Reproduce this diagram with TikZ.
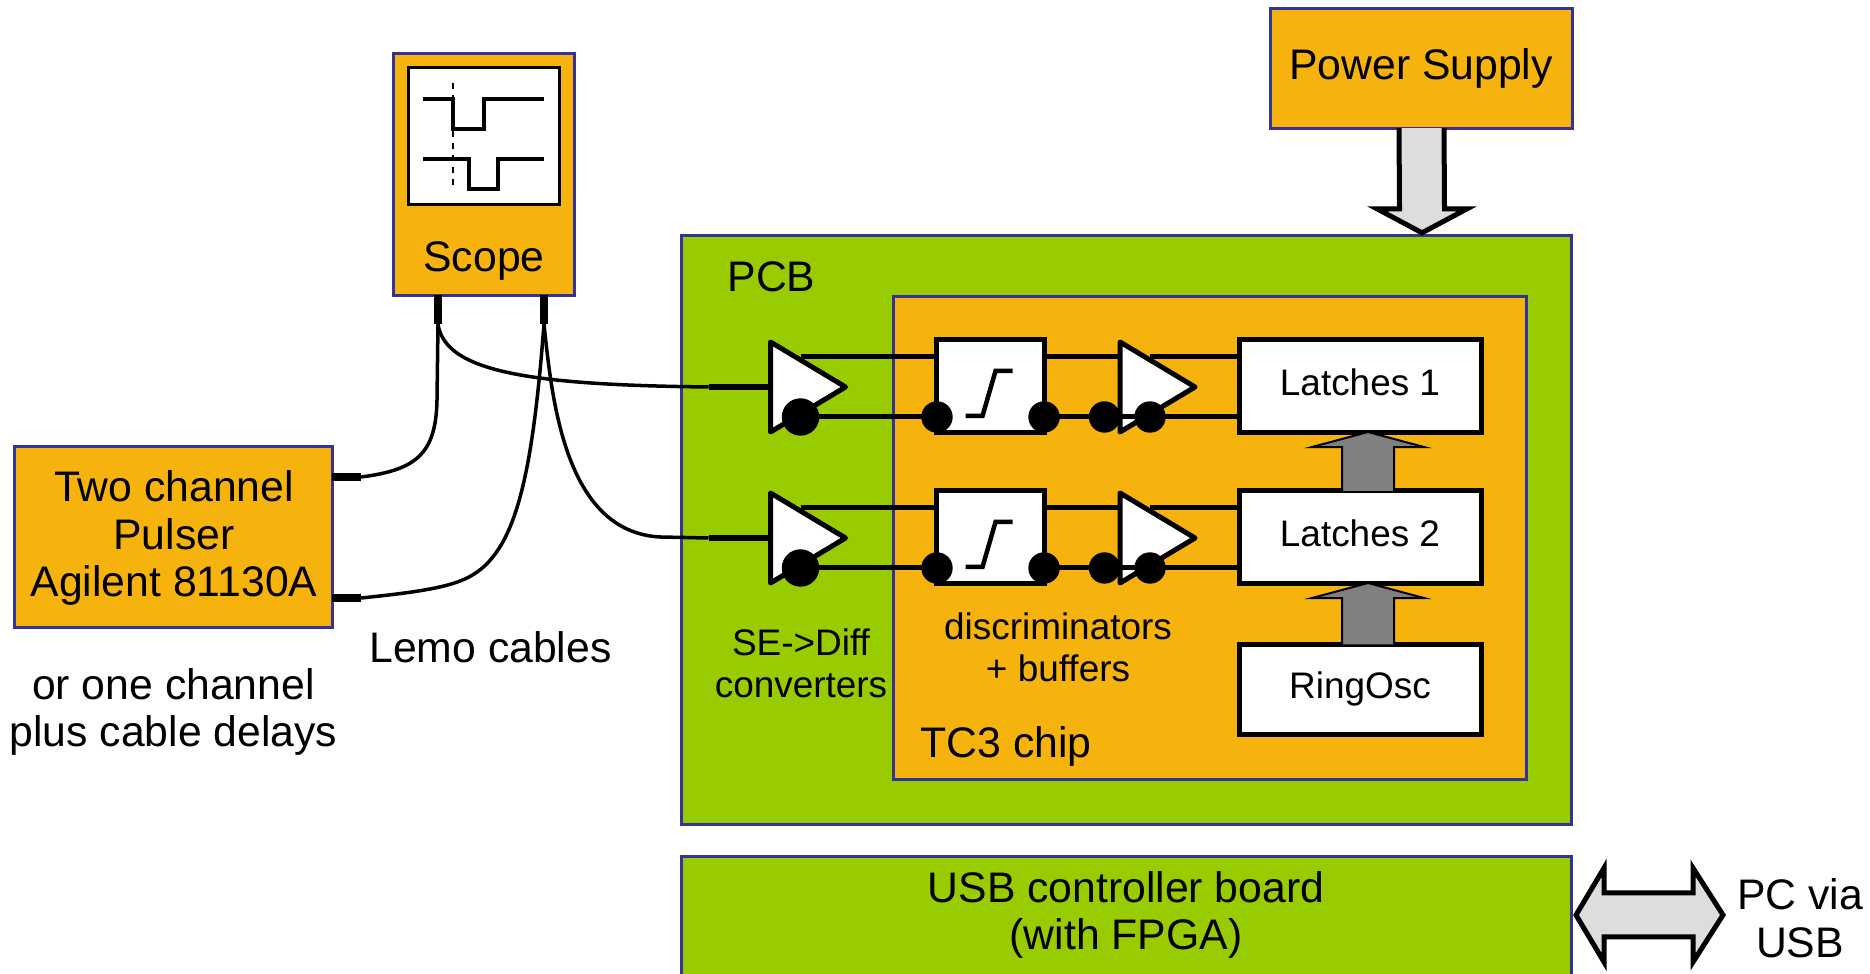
\documentclass[tikz,border=0pt]{standalone}
\usepackage{fontspec}
\setmainfont{Liberation Sans}
\usetikzlibrary{calc}
\definecolor{boxorange}{HTML}{F6B20D}
\definecolor{boxgreen}{HTML}{99CC00}
\definecolor{boxblue}{HTML}{333399}
\definecolor{arrowlight}{HTML}{DDDDDD}
\tikzset{
	bigtext/.style={font=\fontsize{12.15}{13.6}\selectfont, align=center, inner sep=0pt},
	smalltext/.style={font=\fontsize{10.5}{11.95}\selectfont, align=center, inner sep=0pt},
	orangebox/.style={draw=boxblue, fill=boxorange, line width=0.3mm, inner sep=0pt, outer sep=0pt},
	greenbox/.style={draw=boxblue, fill=boxgreen, line width=0.3mm, inner sep=0pt, outer sep=0pt},
	whitebox/.style={draw=black, fill=white, line width=0.5mm, inner sep=0pt, outer sep=0pt, smalltext},
	wire/.style={line width=0.5mm},
	cable/.style={line width=0.35mm},
	plug/.style={line width=0.75mm},
	bubble/.style={fill=black},
}
\def\ampblock(#1)(#2:#3){
	\coordinate (#1in) at (#2,#3);
	\coordinate (#1top) at (#2+30,#3-30);
	\coordinate (#1bot) at (#2+30,#3+30);
	\draw[fill=white, line width=0.5mm, line join=round] (#2,#3-45) -- (#2+75,#3) -- (#2,#3+45) -- cycle;
}
\def\stepblock(#1:#2){
	\draw[line width=0.45mm] (#1-25,#2+30) -- (#1-8,#2+30) -- (#1+5,#2-15) -- (#1+22,#2-15);
}
\def\blockarrow[#1](#2)(#3)(#4:#5:#6){
	\draw[#1] ($(#2)+(-#4,0)$) -- ($(#3)+(-#4,#6)$) -- ($(#3)+(-#5,#6)$) -- (#3) -- ($(#3)+(#5,#6)$) -- ($(#3)+(#4,#6)$) -- ($(#2)+(#4,0)$);
}
\begin{document}
\begin{tikzpicture}[x=0.01cm, y=-0.01cm]
	\clip (0,0) rectangle (1870,974);
	
	%%%%% boxes %%%%%
	\node[orangebox, minimum width=3.02cm, minimum height=1.19cm] (psu) at (1421.5,68.5) {};
	\node[greenbox, minimum width=8.9cm, minimum height=5.88cm] (pcb) at (1126.5,530) {};
	\node[orangebox, minimum width=6.33cm, minimum height=4.82cm] (chip) at (1210,538) {};
	\node[greenbox, minimum width=8.9cm, minimum height=1.6cm] (usb) at (1126.5,937) {};
	\node[orangebox, minimum width=1.8cm, minimum height=2.41cm] (scope) at (484,174.5) {};
	\node[orangebox, minimum width=3.17cm, minimum height=1.8cm] (pulser) at (173.5,537) {};
	\node[draw=black, fill=white, line width=0.3mm, outer sep=0pt, minimum width=1.5cm, minimum height=1.36cm] (screen) at (484,136) {};
	
	%%%%% scope traces %%%%%
	\draw[line width=0.35mm] (423,99) -- (453,99) -- (453,129) -- (484,129) -- (484,99) -- (544,99);
	\draw[line width=0.35mm] (423,159) -- (469,159) -- (469,189) -- (498,189) -- (498,159) -- (544,159);
	\draw[dash pattern=on 0.6mm off 0.6mm, line width=0.2mm] (453,83) -- (453,188);
	
	%%%%% latches %%%%%
	\node[whitebox, minimum width=2.41cm, minimum height=0.92cm] (latcha) at (1360.5,386) {};
	\node[whitebox, minimum width=2.41cm, minimum height=0.92cm] (latchb) at (1360.5,537) {};
	\node[whitebox, minimum width=2.41cm, minimum height=0.9cm] (ring) at (1360.5,689.5) {};
	\node[smalltext] (latchatext) at (1360,382) {Latches 1};
	\node[smalltext] (latchbtext) at (1360,533) {Latches 2};
	\node[smalltext] (ringtext) at (1360,689) {RingOsc};
	
	\coordinate (arrowa) at ($(latcha.south)+(7.5,0)$);
	\coordinate (arrowb) at ($(latchb.south)+(7.5,0)$);
	\blockarrow[fill=gray, line width=0.2mm](latchb.north -| arrowa)(arrowa)(26:56:15);
	\blockarrow[fill=gray, line width=0.2mm](ring.north -| arrowb)(arrowb)(26:56:15);
	
	%%%%% discriminators %%%%%
	\node[whitebox, minimum width=1.07cm, minimum height=0.92cm] (disca) at (990.5,386) {};
	\node[whitebox, minimum width=1.07cm, minimum height=0.92cm] (discb) at (990.5,537) {};
	\stepblock(990.5:386);
	\stepblock(990.5:537);
	
	%%%%% amplifiers %%%%%
	\ampblock(seta)(770.5:387);
	\ampblock(setb)(770.5:538);
	\ampblock(bufa)(1120:387);
	\ampblock(bufb)(1120:538);
	
	\draw[wire] (setatop) -- (setatop -| disca.west);
	\draw[wire] (setabot) -- (setabot -| disca.west);
	\draw[wire] (setbtop) -- (setbtop -| discb.west);
	\draw[wire] (setbbot) -- (setbbot -| discb.west);
	\draw[wire] (bufatop -| disca.east) -- (bufatop -| bufain);
	\draw[wire] (bufbtop -| discb.east) -- (bufbtop -| bufbin);
	\draw[wire] (bufabot -| disca.east) -- (bufabot -| latcha.west);
	\draw[wire] (bufbbot -| discb.east) -- (bufbbot -| latchb.west);
	\draw[wire] (bufatop) -- (bufatop -| latcha.west);
	\draw[wire] (bufbtop) -- (bufbtop -| latchb.west);
	
	\draw[bubble] (setabot) circle (18);
	\draw[bubble] (setbbot) circle (18);
	\draw[bubble] (setabot -| disca.west) circle (15);
	\draw[bubble] (setbbot -| discb.west) circle (15);
	\draw[bubble] (setabot -| disca.east) circle (15);
	\draw[bubble] (setbbot -| discb.east) circle (15);
	\draw[bubble] ($(bufabot)+(-45.5,0)$) circle (15);
	\draw[bubble] ($(bufbbot)+(-45.5,0)$) circle (15);
	\draw[bubble] (bufabot) circle (15);
	\draw[bubble] (bufbbot) circle (15);
	
	%%%%% lemo cables %%%%%
	\coordinate (scopea) at ($(scope.south)+(-46,29)$);
	\coordinate (scopeb) at ($(scope.south)+(60,29)$);
	\coordinate (pulsera) at ($(pulser.east)+(29,-60)$);
	\coordinate (pulserb) at ($(pulser.east)+(29,61)$);
	\coordinate (inputa) at ($(setain)+(-62,0)$);
	\coordinate (inputb) at ($(setbin)+(-62,0)$);
	
	\draw[plug] (scopea |- scope.south) -- (scopea);
	\draw[plug] (scopeb |- scope.south) -- (scopeb);
	\draw[plug] (pulsera -| pulser.east) -- (pulsera);
	\draw[plug] (pulserb -| pulser.east) -- (pulserb);
	\draw[line width=0.55mm] (inputa) -- (setain);
	\draw[line width=0.55mm] (inputb) -- (setbin);
	
	\draw[cable] (pulsera) .. controls (415,470) and (436,455) .. (437,400) -- (scopea);
	\draw[cable] (pulserb) .. controls (420,592) and (450,587) .. (469,577) .. controls (515,553) and (532,480) .. (scopeb);
	\draw[cable] (scopea) .. controls (445,372) and (530,385) .. (inputa);
	\draw[cable] (scopeb) .. controls (552,400) and (565,532) .. (660,537) -- (inputb);
	
	%%%%% big arrows %%%%%
	\coordinate (psutip) at ($(psu.south |- pcb.north)+(0.5,-3)$);
	\blockarrow[fill=arrowlight, line width=0.5mm](psu.south)(psutip)(22.5:45:-24);
	
	\coordinate (pcleft) at (1576,915);
	\coordinate (pcright) at (1723,915);
	\draw[fill=arrowlight, line width=0.5mm] (pcleft) -- ($(pcleft)+(28,-47)$) -- ($(pcleft)+(28,-22)$) -- ($(pcright)+(-30,-22)$) -- ($(pcright)+(-30,-47)$) -- (pcright) -- ($(pcright)+(-30,47)$) -- ($(pcright)+(-30,22)$) -- ($(pcleft)+(28,22)$) -- ($(pcleft)+(28,47)$) -- cycle;
	
	%%%%% labels %%%%%
	\node[bigtext] (psutext) at (1421,68) {Power Supply};
	\node[bigtext] (scopetext) at (484,261) {Scope};
	\node[bigtext] (pcbtext) at (771.5,276.5) {PCB};
	\node[bigtext] (chiptext) at (1006,746) {TC3 chip};
	\node[bigtext] (pulsertext) at (174,538) {Two channel\\Pulser\\Agilent 81130A};
	\node[bigtext] (lemotext) at (490.5,647) {Lemo cables};
	\node[bigtext] (delaytext) at (173.5,712) {or one channel\\plus cable delays};
	\node[bigtext] (usbtext) at (1126,915) {USB controller board\\(with FPGA)};
	\node[bigtext] (pctext) at (1800,918) {PC via\\USB};
	\node[smalltext] (settext) at (801,663) {SE->Diff\\converters};
	\node[smalltext] (disctext) at (1058,647) {discriminators\\+ buffers};
\end{tikzpicture}
\end{document}
